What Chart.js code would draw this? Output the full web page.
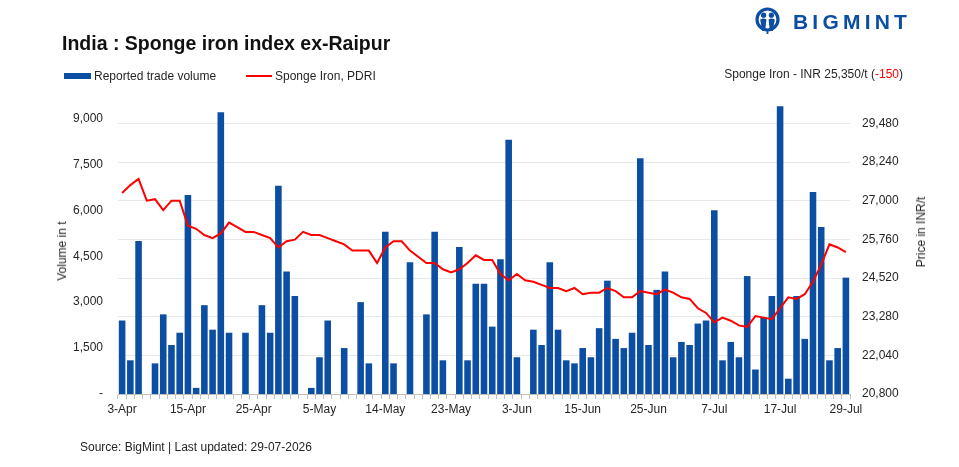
<!DOCTYPE html>
<html>
<head>
<meta charset="utf-8">
<script src="https://cdn.jsdelivr.net/npm/chart.js@4"></script>
<style>
  html, body { margin: 0; padding: 0; background: #ffffff; }
  #wrap { position: relative; width: 959px; height: 467px; overflow: hidden; font-family: 'Liberation Sans', Arial, sans-serif; color: #262626; }
  #c { position: absolute; left: 0; top: 0; }
  .abs { position: absolute; white-space: nowrap; }
  #title { left: 62px; top: 34px; font-size: 19.5px; line-height: 19.5px; font-weight: bold; color: #111; }
  .leg { top: 70px; font-size: 12px; line-height: 12px; }
  .rot { font-size: 12px; line-height: 12px; transform: translate(-50%, -50%) rotate(-90deg); }
  #brand { left: 793px; top: 11px; font-size: 21px; line-height: 21px; font-weight: bold; letter-spacing: 4.2px; color: #0B4EA2; }
</style>
</head>
<body>
<div id="wrap">
  <canvas id="c" width="959" height="467"></canvas>

  <svg class="abs" style="left:755px;top:7px" width="25" height="28" viewBox="0 0 25 28">
    <circle cx="12.5" cy="12.5" r="10.5" fill="none" stroke="#0B4EA2" stroke-width="3.2"/>
    <circle cx="8.6" cy="8.2" r="2.6" fill="#0B4EA2"/>
    <circle cx="16.4" cy="8.2" r="2.6" fill="#0B4EA2"/>
    <path d="M5.2 12.5 Q8.6 10.6 11.4 12.5 L10.2 24 L7.2 24 Z" fill="#0B4EA2"/>
    <path d="M13.6 12.5 Q16.4 10.6 19.8 12.5 L17.8 24 L14.8 24 Z" fill="#0B4EA2"/>
    <rect x="11.6" y="22" width="1.8" height="5" fill="#0B4EA2"/>
  </svg>
  <div id="brand" class="abs">BIGMINT</div>

  <div id="title" class="abs">India : Sponge iron index ex-Raipur</div>

  <div class="abs" style="left:64px;top:73px;width:27px;height:6px;background:#0B4EA2"></div>
  <div class="abs leg" style="left:94px">Reported trade volume</div>
  <div class="abs" style="left:246px;top:75px;width:26px;height:2px;background:#FF0000"></div>
  <div class="abs leg" style="left:275px">Sponge Iron, PDRI</div>

  <div class="abs leg" style="right:56px;top:68px">Sponge Iron - INR 25,350/t (<span style="color:#FF0000">-150</span>)</div>

  <div class="abs rot" style="left:62px;top:251px">Volume in t</div>
  <div class="abs rot" style="left:921px;top:232px">Price in INR/t</div>

  <div class="abs" style="left:80px;top:441px;font-size:12px;line-height:12px">Source: BigMint | Last updated: 29-07-2026</div>
</div>

<script>
// Categories (trading dates)
const LABELS = [
  '3-Apr','6-Apr','7-Apr','8-Apr','9-Apr','10-Apr','13-Apr','14-Apr',
  '15-Apr','16-Apr','17-Apr','18-Apr','20-Apr','21-Apr','22-Apr','23-Apr',
  '25-Apr','27-Apr','28-Apr','29-Apr','30-Apr','1-May','2-May','4-May',
  '5-May','6-May','7-May','8-May','9-May','11-May','12-May','13-May',
  '14-May','15-May','16-May','18-May','19-May','20-May','21-May','22-May',
  '23-May','25-May','26-May','27-May','28-May','29-May','1-Jun','2-Jun',
  '3-Jun','4-Jun','5-Jun','8-Jun','9-Jun','10-Jun','11-Jun','12-Jun',
  '15-Jun','16-Jun','17-Jun','18-Jun','19-Jun','22-Jun','23-Jun','24-Jun',
  '25-Jun','26-Jun','29-Jun','30-Jun','1-Jul','2-Jul','3-Jul','6-Jul',
  '7-Jul','8-Jul','9-Jul','10-Jul','11-Jul','13-Jul','14-Jul','15-Jul',
  '17-Jul','18-Jul','20-Jul','21-Jul','22-Jul','23-Jul','24-Jul','27-Jul',
  '29-Jul'
];

// Dates shown as x-axis tick labels
const TICK_DATES = ['3-Apr','15-Apr','25-Apr','5-May','14-May','23-May','3-Jun','15-Jun','25-Jun','7-Jul','17-Jul','29-Jul'];

// Reported trade volume (t)
const VOLUME = [
  2400,1100,5000,0,1000,2600,1600,2000,
  6500,200,2900,2100,9200,2000,0,2000,
  0,2900,2000,6800,4000,3200,0,200,
  1200,2400,0,1500,0,3000,1000,0,
  5300,1000,0,4300,0,2600,5300,1100,
  0,4800,1100,3600,3600,2200,4400,8300,
  1200,0,2100,1600,4300,2100,1100,1000,
  1500,1200,2150,3700,1800,1500,2000,7700,
  1600,3400,4000,1200,1700,1600,2300,2400,
  6000,1100,1700,1200,3850,800,2500,3200,
  9400,500,3200,1800,6600,5450,1100,1500,
  3800
];

// Sponge Iron, PDRI (INR/t)
const PRICE = [
  27250,27500,27700,27000,27050,26700,27000,27000,
  26200,26100,25900,25800,25950,26300,26150,26000,
  26000,25900,25800,25500,25700,25750,26000,25900,
  25900,25800,25700,25600,25400,25400,25400,25000,
  25500,25700,25700,25400,25200,25000,25000,24800,
  24700,24800,25000,25250,25100,25100,24650,24450,
  24650,24450,24400,24300,24200,24200,24100,24200,
  24000,24050,24050,24200,24100,23900,23900,24100,
  24050,24000,24150,24050,23900,23850,23550,23400,
  23100,23250,23150,23000,22950,23300,23250,23200,
  23550,23900,23850,24000,24400,24950,25600,25500,
  25350
];

// Axis tick values
const VOLUME_TICKS = [0,1500,3000,4500,6000,7500,9000];
const PRICE_TICKS = [20800,22040,23280,24520,25760,27000,28240,29480];

Chart.defaults.font.family = "'Liberation Sans', Arial, sans-serif";
Chart.defaults.font.size = 12;
Chart.defaults.color = '#262626';

new Chart(document.getElementById('c'), {
  type: 'bar',
  data: {
    labels: LABELS,
    datasets: [
      {
        type: 'line',
        label: 'Sponge Iron, PDRI',
        data: PRICE,
        yAxisID: 'y1',
        borderColor: '#FF0000',
        backgroundColor: '#FF0000',
        borderWidth: 2,
        pointRadius: 0,
        tension: 0,
        order: 0
      },
      {
        type: 'bar',
        label: 'Reported trade volume',
        data: VOLUME,
        yAxisID: 'y',
        backgroundColor: '#0B4EA2',
        barPercentage: 0.8,
        categoryPercentage: 1,
        order: 1
      }
    ]
  },
  options: {
    responsive: false,
    animation: false,
    layout: { padding: { top: 100, left: 0, right: 0, bottom: 0 } },
    plugins: { legend: { display: false }, tooltip: { enabled: false } },
    scales: {
      x: {
        grid: { display: true, drawOnChartArea: false, drawTicks: true, tickLength: 5, offset: true, color: '#BFBFBF' },
        border: { display: true, color: '#BFBFBF' },
        ticks: {
          autoSkip: false, maxRotation: 0, minRotation: 0, padding: 3,
          callback: function (v, i) { return TICK_DATES.includes(LABELS[i]) ? LABELS[i] : ''; }
        },
        afterFit: function (s) { s.height = 73; }
      },
      y: {
        position: 'left',
        min: 0, max: 9600,
        grid: { display: false, drawTicks: false },
        border: { display: false },
        afterBuildTicks: function (s) { s.ticks = VOLUME_TICKS.map(v => ({ value: v })); },
        ticks: { padding: 15, callback: v => v === 0 ? '-' : v.toLocaleString('en-US') },
        afterFit: function (s) { s.width = 118; }
      },
      y1: {
        position: 'right',
        min: 20800, max: 30230,
        grid: { display: true, drawTicks: false, color: '#E8E8E8' },
        border: { display: false },
        afterBuildTicks: function (s) { s.ticks = PRICE_TICKS.map(v => ({ value: v })); },
        ticks: { padding: 12, callback: v => v.toLocaleString('en-US') },
        afterFit: function (s) { s.width = 109; }
      }
    }
  }
});
</script>
</body>
</html>
